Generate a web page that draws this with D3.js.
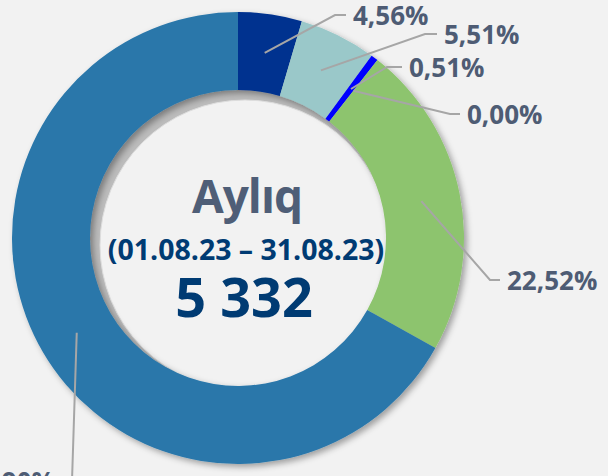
<!DOCTYPE html>
<html>
<head>
<meta charset="utf-8">
<script src="https://cdn.jsdelivr.net/npm/d3@7"></script>
<style>
  html, body { margin: 0; padding: 0; background: #f2f2f2; }
  svg { display: block; }
</style>
</head>
<body>
<div id="chart"></div>
<script>
const width = 608,
      height = 476;

// data
const categories = ["a", "b", "c", "d", "e", "f"];
const values = [4.56, 5.51, 0.51, 0.00, 22.52, 66.90];
const labels = ["4,56%", "5,51%", "0,51%", "0,00%", "22,52%", "66,90%"];
const colors = ["#00338f", "#9ac8c9", "#0000ff", "#8dc46e", "#8dc46e", "#2a77aa"];

const title = "Aylıq";
const period = "(01.08.23 – 31.08.23)";
const total = "5 332";

// where each leader line bends (elbow) and how long the horizontal tail is
const elbows = [[335, 15], [425, 34], [387, 67], [450, 114], [490, 280], [72, 481]];
const tails = [11, 12, 15, 10, 10, -10];

const cx = 238, cy = 238,
      rOuter = 226, rInner = 148;

let svg = d3.select("#chart")
    .append("svg")
    .attr("width", width)
    .attr("height", height);

let defs = svg.append("defs");
defs.append("filter")
    .attr("id", "shadow")
    .attr("x", "-10%").attr("y", "-10%")
    .attr("width", "120%").attr("height", "120%")
    .append("feDropShadow")
    .attr("dx", 3).attr("dy", 3)
    .attr("stdDeviation", 3)
    .attr("flood-color", "#000")
    .attr("flood-opacity", 0.35);

svg.append("rect")
    .attr("width", width)
    .attr("height", height)
    .attr("fill", "#f2f2f2");

// inner hole with shadow on upper left
let g = svg.append("g").attr("transform", `translate(${cx},${cy})`);
g.append("circle")
    .attr("r", rInner + 2)
    .attr("fill", "#bcbcbc");
g.append("circle")
    .attr("cx", 7).attr("cy", 7)
    .attr("r", rInner - 3)
    .attr("fill", "#f2f2f2")
    .attr("stroke", "#dedede")
    .attr("stroke-width", 1);

let pie = d3.pie()
    .sort(null)
    .value(d => d);

let arc = d3.arc()
    .innerRadius(rInner)
    .outerRadius(rOuter);

let arcs = pie(values);

g.append("g")
    .attr("filter", "url(#shadow)")
    .selectAll("path")
    .data(arcs)
    .join("path")
    .attr("d", arc)
    .attr("fill", (d, i) => colors[i]);

// leader lines
let leaders = svg.append("g");
arcs.forEach((d, i) => {
    let c = arc.centroid(d);
    let start = [cx + c[0], cy + c[1]];
    let e = elbows[i];
    let end = [e[0] + tails[i], e[1]];
    leaders.append("polyline")
        .attr("points", [start, e, end].map(p => p.join(",")).join(" "))
        .attr("fill", "none")
        .attr("stroke", "#a6a6a6")
        .attr("stroke-width", 2);

    leaders.append("text")
        .text(labels[i])
        .attr("x", end[0] + (tails[i] > 0 ? 7 : -7))
        .attr("y", end[1] + 10)
        .attr("text-anchor", tails[i] > 0 ? "start" : "end")
        .attr("font-family", "'Open Sans', sans-serif")
        .attr("font-weight", "bold")
        .attr("font-size", 26)
        .attr("fill", "#4e5c74");
});

// centre texts
svg.append("text")
    .text(title)
    .attr("x", 247).attr("y", 213)
    .attr("text-anchor", "middle")
    .attr("font-family", "'Open Sans', sans-serif")
    .attr("font-weight", "bold")
    .attr("font-size", 46)
    .attr("letter-spacing", -1)
    .attr("fill", "#4f5e77");

svg.append("text")
    .text(period)
    .attr("x", 246).attr("y", 260)
    .attr("text-anchor", "middle")
    .attr("font-family", "'Open Sans', sans-serif")
    .attr("font-weight", "bold")
    .attr("font-size", 28.5)
    .attr("fill", "#003b73");

svg.append("text")
    .text(total)
    .attr("x", 244).attr("y", 317)
    .attr("text-anchor", "middle")
    .attr("font-family", "'Open Sans', sans-serif")
    .attr("font-weight", "bold")
    .attr("font-size", 54)
    .attr("fill", "#003b73");
</script>
</body>
</html>
